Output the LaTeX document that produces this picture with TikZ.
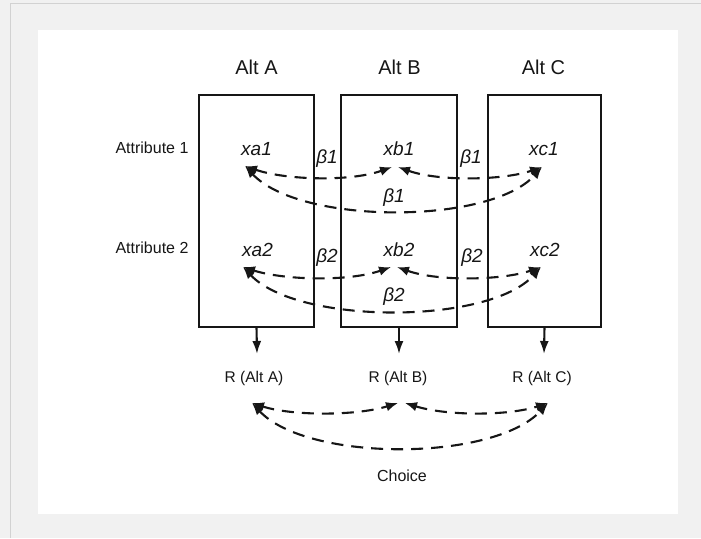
\documentclass[tikz,border=0pt]{standalone}
\usepackage{fontspec}
\setmainfont{Liberation Sans}
\usetikzlibrary{arrows.meta}
\definecolor{bggray}{HTML}{F1F1F1}
\definecolor{edgegray}{HTML}{D2D2D2}
\definecolor{ink}{HTML}{161616}
\begin{document}
\begin{tikzpicture}[x=1pt,y=-1pt,
  altbox/.style={draw=ink, line width=2.2pt, minimum width=#1, minimum height=232pt, inner sep=0pt, outer sep=0pt},
  head/.style={inner sep=0pt, text=ink, font=\fontsize{20}{24}\selectfont},
  attr/.style={inner sep=0pt, text=ink, font=\fontsize{16}{19}\selectfont},
  var/.style={inner sep=0pt, text=ink, font=\fontsize{19}{23}\selectfont\itshape},
  rlbl/.style={inner sep=0pt, text=ink, font=\fontsize{15.5}{19}\selectfont},
  link/.style={draw=ink, line width=2.1pt, dash pattern=on 12pt off 8pt,
    {Latex[length=12pt,width=9.5pt]}-{Latex[length=12pt,width=9.5pt]}},
  down/.style={draw=ink, line width=2.1pt, -{Latex[length=13pt,width=9pt]}}]
\useasboundingbox (0,0) rectangle (701,538);
% background
\fill[bggray] (0,0) rectangle (701,538);
\draw[edgegray, line width=1pt] (10,538) -- (10,3) -- (701,3);
\fill[white] (38,30) rectangle (678,514);

% boxes
\node[altbox=115pt] (boxA) at (256.5,211) {};
\node[altbox=116pt] (boxB) at (399,211) {};
\node[altbox=113pt] (boxC) at (544.5,211) {};

% headers
\node[head] (hA) at (256.5,67) {Alt A};
\node[head] (hB) at (399.5,67) {Alt B};
\node[head] (hC) at (543.5,67) {Alt C};

% attribute labels
\node[attr] (at1) at (152,148) {Attribute 1};
\node[attr] (at2) at (152,248) {Attribute 2};

% variables
\node[var] (xa1) at (256.5,149) {xa1};
\node[var] (xb1) at (399,149) {xb1};
\node[var] (xc1) at (544,149) {xc1};
\node[var] (xa2) at (257.5,250) {xa2};
\node[var] (xb2) at (399,250) {xb2};
\node[var] (xc2) at (545,250) {xc2};

% beta labels
\node[var] (b1l) at (327,159) {β1};
\node[var] (b1r) at (471,159) {β1};
\node[var] (b1m) at (394,198) {β1};
\node[var] (b2l) at (327,258) {β2};
\node[var] (b2r) at (472,258) {β2};
\node[var] (b2m) at (394,297) {β2};

% utility labels
\node[rlbl] (rA) at (254,378) {R (Alt A)};
\node[rlbl] (rB) at (398,378) {R (Alt B)};
\node[rlbl] (rC) at (542,378) {R (Alt C)};
\node[attr] (choice) at (402,476) {Choice};

% arrow tip coordinates
\coordinate (ta1) at (245,166);
\coordinate (tb1l) at (392,167);
\coordinate (tb1r) at (398,167);
\coordinate (tc1) at (542,167);
\coordinate (ta2) at (243,267);
\coordinate (tb2l) at (391,267);
\coordinate (tb2r) at (397,267);
\coordinate (tc2) at (541,267);
\coordinate (ta3) at (252,403);
\coordinate (tb3l) at (398,403);
\coordinate (tb3r) at (405,403);
\coordinate (tc3) at (548,403);
\coordinate (dA) at (257,354);
\coordinate (dB) at (399,354);
\coordinate (dC) at (544,354);

% row 1
\draw[link] (ta1) .. controls (285,180) and (350,182) .. (tb1l);
\draw[link] (tb1r) .. controls (440,182) and (505,180) .. (tc1);
\draw[link] (ta1) .. controls (300,225) and (490,225) .. (tc1);
% row 2
\draw[link] (ta2) .. controls (283,280) and (348,282) .. (tb2l);
\draw[link] (tb2r) .. controls (439,282) and (504,280) .. (tc2);
\draw[link] (ta2) .. controls (298,325) and (489,325) .. (tc2);
% choice
\draw[link] (ta3) .. controls (292,416) and (356,416) .. (tb3l);
\draw[link] (tb3r) .. controls (447,416) and (508,416) .. (tc3);
\draw[link] (ta3) .. controls (307,462) and (493,462) .. (tc3);

% down arrows
\draw[down] (boxA.south) -- (dA);
\draw[down] (boxB.south) -- (dB);
\draw[down] (boxC.south) -- (dC);
\end{tikzpicture}
\end{document}
